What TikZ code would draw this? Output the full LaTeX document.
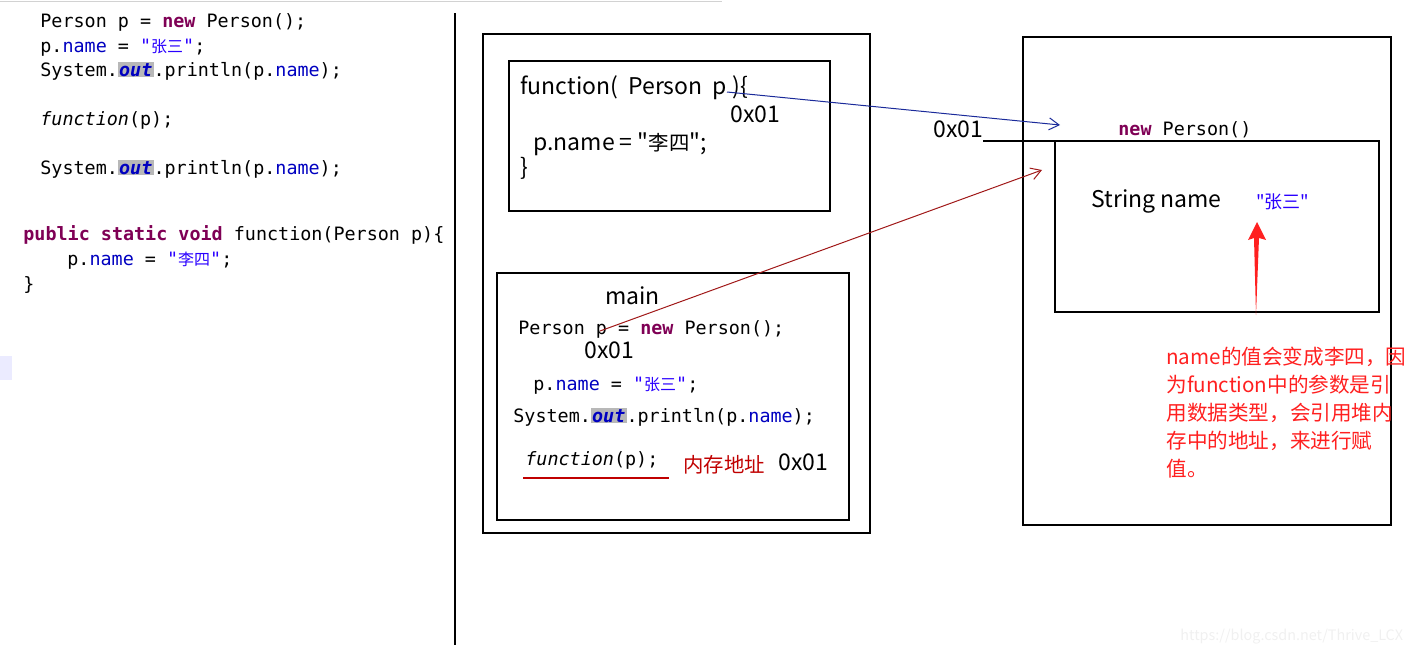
\documentclass[tikz,border=0pt]{standalone}
\usepackage{fontspec}
\setmainfont{Noto Sans CJK SC}[Ligatures=TeXOff]
\setmonofont{DejaVu Sans Mono}
\newfontfamily\cjk{Noto Sans CJK SC}[Ligatures=TeXOff]
\usetikzlibrary{arrows.meta}

\definecolor{kwcol}{HTML}{7F0055}
\definecolor{fldcol}{HTML}{0000C0}
\definecolor{strcol}{HTML}{2A00FF}
\definecolor{hlcol}{HTML}{B8B8B8}
\definecolor{notecol}{HTML}{FF2020}
\definecolor{addrcol}{HTML}{C00000}
\definecolor{refblue}{HTML}{1A2A9A}
\definecolor{refred}{HTML}{A01818}

\newcommand\dq{\char34\relax}
\newcommand\kw[1]{\textcolor{kwcol}{\textbf{#1}}}
\newcommand\fld[1]{\textcolor{fldcol}{#1}}
\newcommand\strl[1]{\textcolor{strcol}{"{\cjk\fontsize{8}{9}\selectfont #1}"}}
\newcommand\outf{{\fboxsep=0.6pt\colorbox{hlcol}{\textcolor{fldcol}{\bfseries\itshape out}}}}
\newcommand\hanzi[1]{{\fontsize{10.2}{12}\selectfont #1}}

\tikzset{
  box/.style={draw, line width=0.8pt},
  code/.style={anchor=base west, inner sep=0pt, font=\ttfamily\fontsize{9.2}{11}\selectfont},
  lbl/.style={anchor=base west, inner sep=0pt, font=\fontsize{11.5}{13}\selectfont},
  note/.style={anchor=base west, inner sep=0pt, text=notecol, font=\fontsize{10.3}{12}\selectfont},
  ref/.style={-{Straight Barb[length=5pt,width=6pt]}, line width=0.5pt}
}

\begin{document}
\begin{tikzpicture}[x=0.5pt,y=-0.5pt]
        \useasboundingbox (0,0) rectangle (1420,653);
        \draw[gray!35] (0,1) -- (722,1);
        \fill[blue!8] (0,356) rectangle (12,380);
        \draw[line width=0.8pt] (455,13) -- (455,645);

        % source code
        \foreach \v/\x/\y/\t in
        {c1/40/27/{Person p = \kw{new} Person();},
            c2/40/52/{p.\fld{name} = \strl{张三};},
            c3/40/76/{System.\outf.println(p.\fld{name});},
            c4/40/125/{\textit{function}(p);},
            c5/40/174/{System.\outf.println(p.\fld{name});},
            c6/23/240/{\kw{public} \kw{static} \kw{void} function(Person p)\{},
            c7/67/265/{p.\fld{name} = \strl{李四};},
            c8/23/290/{\}}
        }
        {
            \node[code] (\v) at (\x,\y) {\t};
        };

        % stack
        \draw[box] (483,34) rectangle (870,533);
        \draw[box] (509,61) rectangle (830,211);
        \draw[box] (497,273) rectangle (849,520);

        \node[lbl] (fhead) at (520,94) {function(\ \ Person\ \ p )\{};
        \node[lbl] (faddr) at (730,122) {0x01};
        \node[lbl] (fbody) at (533,150) {p.name = \dq\hanzi{李四}\dq;};
        \node[lbl] (fend) at (520,175) {\}};

        \node[lbl] (mname) at (605,304) {main};
        \foreach \v/\x/\y/\t in
        {m1/518/334/{Person p = \kw{new} Person();},
            m2/533/390/{p.\fld{name} = \strl{张三};},
            m3/513/422/{System.\outf.println(p.\fld{name});},
            m4/525/465/{\textit{function}(p);}
        }
        {
            \node[code] (\v) at (\x,\y) {\t};
        };
        \node[lbl] (maddr) at (584,358) {0x01};
        \draw[addrcol, line width=0.6pt] (523,478) -- (669,478);
        \node[lbl, text=addrcol] (memaddr) at (683,472) {\hanzi{内存地址}};
        \node[lbl] (memval) at (778,470) {0x01};

        % heap
        \draw[box] (1023,37) rectangle (1391,525);
        \draw[box] (1055,141) rectangle (1379,312);
        \draw[line width=0.8pt] (983,141) -- (1055,141);
        \node[lbl] (haddr) at (933,137) {0x01};
        \node[code] (hnew) at (1118,135) {\kw{new} Person()};
        \node[lbl] (hfield) at (1091,207) {String name};
        \node[anchor=base west, inner sep=0pt, text=strcol, font=\fontsize{9}{11}\selectfont] (hval) at (1256,208) {\dq 张三\dq};

        % references
        \coordinate (pfun) at (727,92);
        \coordinate (pobj) at (1060,125);
        \coordinate (pmain) at (600,331);
        \coordinate (pobjin) at (1042,170);
        \draw[ref, draw=refblue] (pfun) -- (pobj);
        \draw[ref, draw=refred] (pmain) -- (pobjin);

        \fill[notecol] (1257,222) -- (1266,240) -- (1259,238) -- (1256,315)
            -- (1254,238) -- (1248,240) -- cycle;

        \foreach \t [count=\i] in
        {name的值会变成李四，因,
            为function中的参数是引,
            用数据类型，会引用堆内,
            存中的地址，来进行赋,
            值。}
        {
            \node[note] (n\i) at (1166,336+28*\i) {\t};
        };

        \node[anchor=base west, inner sep=0pt, text=gray!12, font=\fontsize{7.2}{9}\selectfont] (wm) at (1180,640) {https://blog.csdn.net/Thrive\_LCX};
\end{tikzpicture}
\end{document}
